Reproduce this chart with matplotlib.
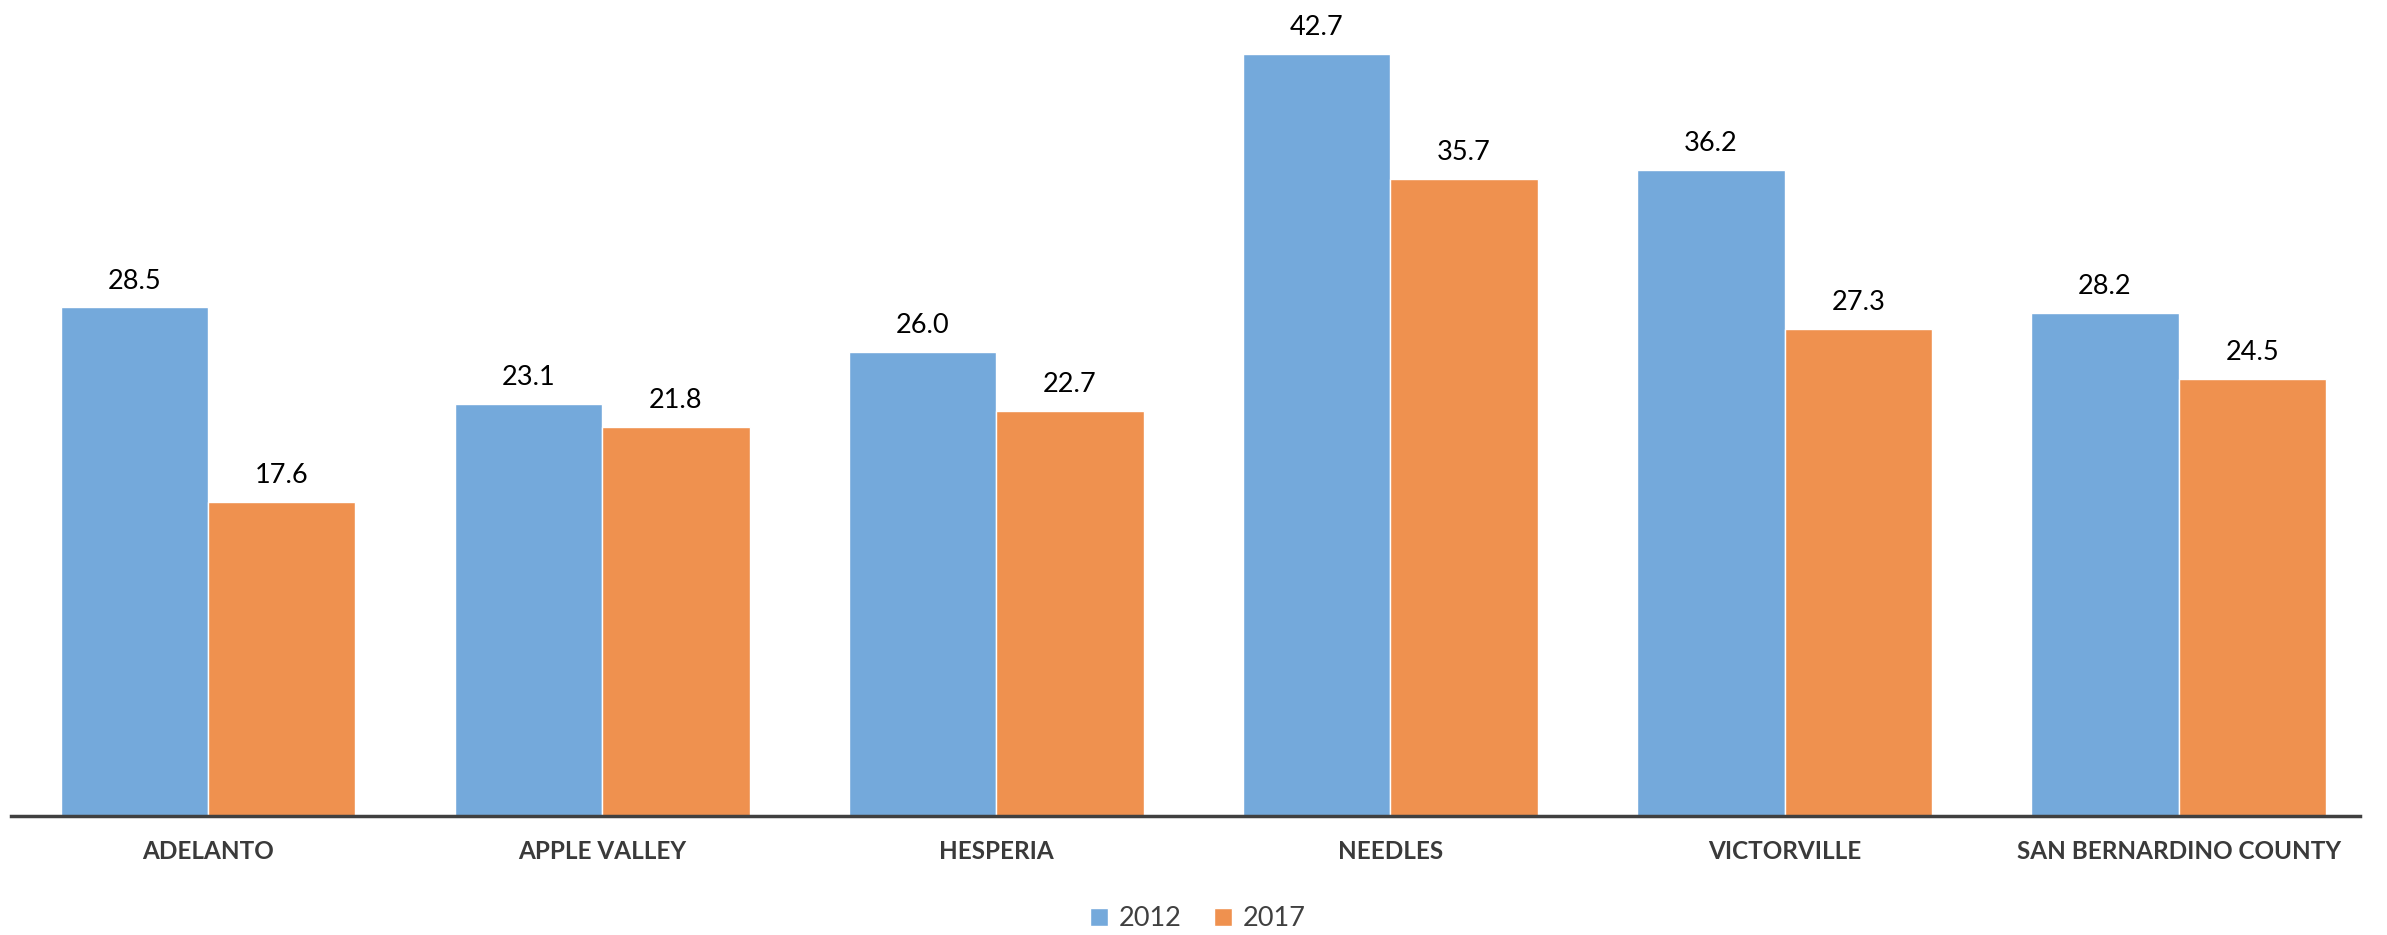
import numpy as np
import matplotlib
matplotlib.use("Agg")
import matplotlib.pyplot as plt

categories = ["ADELANTO", "APPLE VALLEY", "HESPERIA", "NEEDLES", "VICTORVILLE", "SAN BERNARDINO COUNTY"]
vals_2012 = [28.5, 23.1, 26.0, 42.7, 36.2, 28.2]
vals_2017 = [17.6, 21.8, 22.7, 35.7, 27.3, 24.5]
series_names = ["2012", "2017"]

blue = "#74A9DB"
orange = "#EF914F"
grey = "#404040"

plt.rcParams['font.family'] = ['Lato', 'DejaVu Sans']

fig = plt.figure(figsize=(23.87, 9.35), dpi=100)
ax = fig.add_axes([11 / 2387, 119 / 935, (2360 - 11) / 2387, (816 - 13) / 935])

x = np.arange(len(categories))
w = 0.374
b1 = ax.bar(x - w / 2, vals_2012, w, color=blue, edgecolor="white", linewidth=1, label=series_names[0])
b2 = ax.bar(x + w / 2, vals_2017, w, color=orange, edgecolor="white", linewidth=1, label=series_names[1])

for bars in (b1, b2):
    for r in bars:
        ax.annotate(f"{r.get_height():.1f}", (r.get_x() + r.get_width() / 2, r.get_height()),
                    xytext=(0, 10), textcoords="offset points", ha="center", va="bottom",
                    fontsize=19.5, color="black")

ax.set_xlim(-0.5, 5.46)
ax.set_ylim(0, 45)
ax.set_yticks([])
ax.set_xticks(x)
ax.set_xticklabels(categories, fontsize=17.5, fontweight="bold", color="#3a3a3a")
ax.tick_params(axis="x", length=0, pad=17)
for s in ["top", "right", "left"]:
    ax.spines[s].set_visible(False)
ax.spines["bottom"].set_color(grey)
ax.spines["bottom"].set_linewidth(2.5)

fig.legend(handles=[b1, b2], loc="center", bbox_to_anchor=(1198 / 2387, 1 - 919 / 935),
           ncol=2, frameon=False, fontsize=19.5, handlelength=0.65, handleheight=0.65,
           handletextpad=0.4, columnspacing=1.2, labelcolor=grey)

fig.savefig("out.png", dpi=100)
